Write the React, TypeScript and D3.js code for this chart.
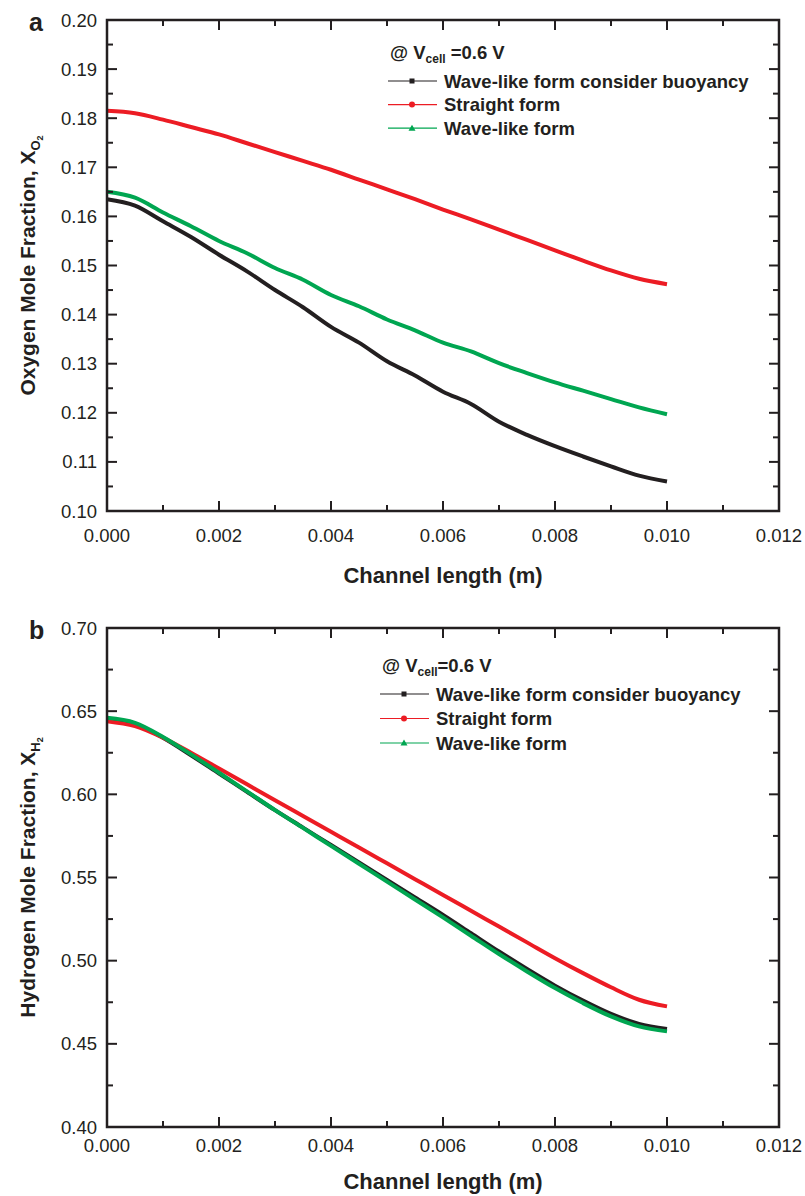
import React from "react";
import * as d3 from "d3";

// channel length positions (m)
const channelX = [
  0, 0.0005, 0.001, 0.0015, 0.002, 0.0025, 0.003, 0.0035, 0.004, 0.0045, 0.005,
  0.0055, 0.006, 0.0065, 0.007, 0.0075, 0.008, 0.0085, 0.009, 0.0095, 0.01,
];

// panel a: oxygen mole fraction
const o2Buoyancy = [
  0.1635, 0.1622, 0.159, 0.1558, 0.1522, 0.1488, 0.145, 0.1415, 0.1375, 0.1343, 0.1305,
  0.1276, 0.1243, 0.1218, 0.1182, 0.1155, 0.1132, 0.1111, 0.1091, 0.1072, 0.106,
];
const o2Straight = [
  0.1815, 0.181, 0.1797, 0.1782, 0.1767, 0.1749, 0.1731, 0.1713, 0.1695, 0.1675, 0.1655,
  0.1635, 0.1614, 0.1594, 0.1573, 0.1552, 0.1531, 0.151, 0.149, 0.1473, 0.1462,
];
const o2Wave = [
  0.165, 0.1638, 0.1608, 0.158, 0.155, 0.1525, 0.1495, 0.1471, 0.144, 0.1417, 0.139,
  0.1368, 0.1343, 0.1325, 0.1301, 0.1281, 0.1262, 0.1245, 0.1228, 0.1211, 0.1197,
];

// panel b: hydrogen mole fraction
const h2Buoyancy = [
  0.6455, 0.6425, 0.634, 0.6235, 0.6125, 0.6015, 0.5905, 0.58, 0.5695, 0.559, 0.5485,
  0.538, 0.5275, 0.5165, 0.5055, 0.495, 0.485, 0.476, 0.468, 0.462, 0.459,
];
const h2Straight = [
  0.644, 0.641, 0.634, 0.625, 0.6155, 0.606, 0.5965, 0.587, 0.5775, 0.568, 0.5585,
  0.549, 0.5395, 0.53, 0.5205, 0.511, 0.5015, 0.4925, 0.484, 0.4765, 0.4725,
];
const h2Wave = [
  0.646, 0.643, 0.6345, 0.624, 0.613, 0.6018, 0.5905, 0.5798, 0.569, 0.5583, 0.5475,
  0.5368, 0.526, 0.515, 0.504, 0.4935, 0.4835, 0.4745, 0.4665, 0.4605, 0.4575,
];

const xTicks = [0, 0.002, 0.004, 0.006, 0.008, 0.01, 0.012];
const xMinor = [0.001, 0.003, 0.005, 0.007, 0.009, 0.011];
const o2Ticks = [0.1, 0.11, 0.12, 0.13, 0.14, 0.15, 0.16, 0.17, 0.18, 0.19, 0.2];
const o2Minor = [0.105, 0.115, 0.125, 0.135, 0.145, 0.155, 0.165, 0.175, 0.185, 0.195];
const h2Ticks = [0.4, 0.45, 0.5, 0.55, 0.6, 0.65, 0.7];
const h2Minor = [0.425, 0.475, 0.525, 0.575, 0.625, 0.675];

const seriesNames = ["Wave-like form consider buoyancy", "Straight form", "Wave-like form"];
const seriesColors = ["#231f20", "#ec1c24", "#00a651"];
const seriesMarkers = ["square", "circle", "triangle"];

const FONT = "'Liberation Sans', Arial, Helvetica, sans-serif";
const INK = "#231f20";

function Marker({ kind, x, y, color }: { kind: string; x: number; y: number; color: string }) {
  if (kind === "square") return <rect x={x - 2.5} y={y - 2.5} width={5} height={5} fill={color} />;
  if (kind === "circle") return <circle cx={x} cy={y} r={3} fill={color} />;
  return <path d={`M${x},${y - 3.5}L${x + 3.5},${y + 2.5}L${x - 3.5},${y + 2.5}Z`} fill={color} />;
}

function Panel({
  letter, top, bottom, yDomain, yTicks, yMinor, series, species,
  legendX, headerY, firstRowY, rowGap, spaceBeforeEq, labelOffset, titleOffset,
}: {
  letter: string; top: number; bottom: number; yDomain: [number, number]; yTicks: number[];
  yMinor: number[]; series: number[][]; species: string; legendX: number; headerY: number;
  firstRowY: number; rowGap: number; spaceBeforeEq: boolean; labelOffset: number; titleOffset: number;
}) {
  const left = 107;
  const right = 779;
  const x = d3.scaleLinear().domain([0, 0.012]).range([left, right]);
  const y = d3.scaleLinear().domain(yDomain).range([bottom, top]);
  const line = d3
    .line<number>()
    .x((_, i) => x(channelX[i]))
    .y((d) => y(d))
    .curve(d3.curveMonotoneX);
  const major = 10;
  const minor = 6;
  const midY = (top + bottom) / 2;
  const fmt = d3.format(".2f");

  return (
    <g>
      <text x={29} y={top + 11} fontFamily={FONT} fontWeight="bold" fontSize={25} fill={INK}>
        {letter}
      </text>

      {series.map((s, k) => (
        <path key={k} d={line(s) ?? ""} fill="none" stroke={seriesColors[k]} strokeWidth={4} strokeLinejoin="round" />
      ))}

      {/* frame */}
      <rect x={left} y={top} width={right - left} height={bottom - top} fill="none" stroke={INK} strokeWidth={2.5} />

      {xTicks.map((t) => (
        <g key={"x" + t}>
          <line x1={x(t)} x2={x(t)} y1={bottom} y2={bottom - major} stroke={INK} strokeWidth={2} />
          <line x1={x(t)} x2={x(t)} y1={top} y2={top + major} stroke={INK} strokeWidth={2} />
          <text x={x(t)} y={bottom + labelOffset} textAnchor="middle" fontFamily={FONT} fontSize={18.5} fill={INK}>
            {d3.format(".3f")(t)}
          </text>
        </g>
      ))}
      {xMinor.map((t) => (
        <g key={"xm" + t}>
          <line x1={x(t)} x2={x(t)} y1={bottom} y2={bottom - minor} stroke={INK} strokeWidth={2} />
          <line x1={x(t)} x2={x(t)} y1={top} y2={top + minor} stroke={INK} strokeWidth={2} />
        </g>
      ))}
      {yTicks.map((t) => (
        <g key={"y" + t}>
          <line x1={left} x2={left + major} y1={y(t)} y2={y(t)} stroke={INK} strokeWidth={2} />
          <line x1={right} x2={right - major} y1={y(t)} y2={y(t)} stroke={INK} strokeWidth={2} />
          <text x={97} y={y(t) + 6.5} textAnchor="end" fontFamily={FONT} fontSize={18.5} fill={INK}>
            {fmt(t)}
          </text>
        </g>
      ))}
      {yMinor.map((t) => (
        <g key={"ym" + t}>
          <line x1={left} x2={left + minor} y1={y(t)} y2={y(t)} stroke={INK} strokeWidth={2} />
          <line x1={right} x2={right - minor} y1={y(t)} y2={y(t)} stroke={INK} strokeWidth={2} />
        </g>
      ))}

      <text x={(left + right) / 2} y={bottom + titleOffset} textAnchor="middle" fontFamily={FONT} fontWeight="bold" fontSize={22} fill={INK}>
        Channel length (m)
      </text>
      <text transform={`translate(35,${midY}) rotate(-90)`} textAnchor="middle" fontFamily={FONT} fontWeight="bold" fontSize={21} fill={INK}>
        {species === "O" ? "Oxygen" : "Hydrogen"} Mole Fraction, X
        <tspan fontSize={13} dy={5}>{species}</tspan>
        <tspan fontSize={9} dy={3}>2</tspan>
      </text>

      {/* legend */}
      <text x={legendX} y={headerY} fontFamily={FONT} fontWeight="bold" fontSize={18.5} fill={INK}>
        @ V<tspan fontSize={12} dy={4}>cell</tspan>
        <tspan dy={-4}>{spaceBeforeEq ? " =0.6 V" : "=0.6 V"}</tspan>
      </text>
      {seriesNames.map((name, k) => {
        const ly = firstRowY + k * rowGap;
        return (
          <g key={name}>
            <line x1={legendX - 2} x2={legendX + 47} y1={ly} y2={ly} stroke={seriesColors[k]} strokeWidth={1.2} />
            <Marker kind={seriesMarkers[k]} x={legendX + 22} y={ly} color={seriesColors[k]} />
            <text x={legendX + 54} y={ly + 6.5} fontFamily={FONT} fontWeight="bold" fontSize={18.5} fill={INK}>
              {name}
            </text>
          </g>
        );
      })}
    </g>
  );
}

export default function App() {
  return (
    <svg
      width={805}
      height={1196}
      style={{ position: "absolute", left: 0, top: 0, background: "#fff" }}
    >
      <Panel
        letter="a"
        top={20}
        bottom={511}
        yDomain={[0.1, 0.2]}
        yTicks={o2Ticks}
        yMinor={o2Minor}
        series={[o2Buoyancy, o2Straight, o2Wave]}
        species="O"
        legendX={390}
        headerY={59}
        firstRowY={81}
        rowGap={23.6}
        spaceBeforeEq={true}
        labelOffset={31}
        titleOffset={72}
      />
      <Panel
        letter="b"
        top={628}
        bottom={1127}
        yDomain={[0.4, 0.7]}
        yTicks={h2Ticks}
        yMinor={h2Minor}
        series={[h2Buoyancy, h2Straight, h2Wave]}
        species="H"
        legendX={382}
        headerY={672}
        firstRowY={694}
        rowGap={24.5}
        spaceBeforeEq={false}
        labelOffset={25}
        titleOffset={62}
      />
    </svg>
  );
}
